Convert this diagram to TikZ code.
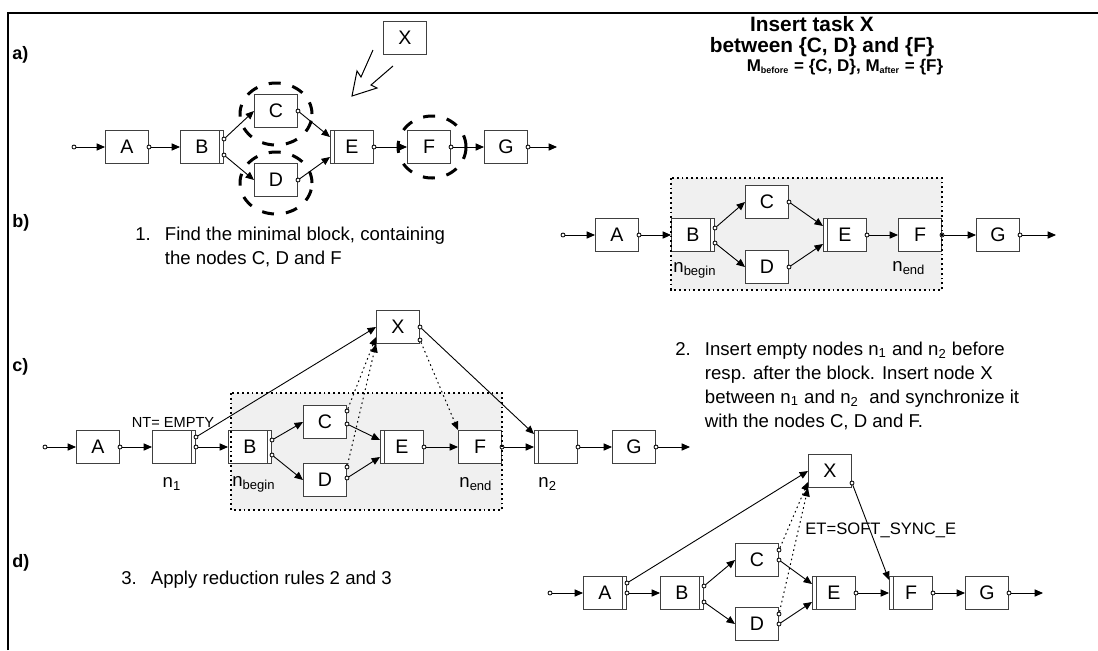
\documentclass[tikz,border=0pt]{standalone}
\usepackage{fontspec}
\setmainfont{Liberation Sans}
\usetikzlibrary{arrows.meta, calc, positioning}
\definecolor{boxInk}{HTML}{404040}
\definecolor{blockFill}{HTML}{F0F0F0}

\begin{document}
\begin{tikzpicture}[
  x=0.5pt, y=-0.5pt,
  >={Triangle[length=4.2pt, width=3.6pt]},
  task/.style={draw=boxInk, fill=white, line width=0.5pt, minimum width=21.5pt,
               minimum height=16.5pt, inner sep=0pt, font=\fontsize{9.8}{11}\selectfont},
  dblR/.style={path picture={\draw[boxInk, line width=0.5pt]
      ([xshift=-2.2pt]path picture bounding box.north east) --
      ([xshift=-2.2pt]path picture bounding box.south east);}},
  dblL/.style={path picture={\draw[boxInk, line width=0.5pt]
      ([xshift=2.2pt]path picture bounding box.north west) --
      ([xshift=2.2pt]path picture bounding box.south west);}},
  port/.style={circle, draw=black, fill=white, line width=0.4pt, minimum size=2pt, inner sep=0pt},
  flow/.style={->, line width=0.45pt},
  sync/.style={->, line width=0.5pt, dash pattern=on 0.8pt off 1.6pt},
  ring/.style={line width=1.5pt, dash pattern=on 6pt off 6pt},
  blockfill/.style={fill=blockFill},
  blockedge/.style={draw=black, line width=0.9pt, dash pattern=on 0.9pt off 1.5pt},
  frame/.style={line width=1.3pt},
  lbl/.style={font=\fontsize{9.3}{12}\selectfont, inner sep=0pt},
  tag/.style={font=\fontsize{7.3}{9}\selectfont, inner sep=0pt},
  ttl/.style={font=\bfseries\fontsize{9}{10}\selectfont, inner sep=0pt},
  head/.style={font=\bfseries\fontsize{10.4}{12}\selectfont, inner sep=0pt},
]
\useasboundingbox (0,0) rectangle (1098,650);
\draw[frame] (8,650) -- (8,13) -- (1098,13);

% ================================ a) =========================================
\node[ttl, anchor=west] (la) at (12,55) {a)};

\node[port] (as) at (74,147) {};
\node[task] (aA) at (127,147) {A};
\node[task, dblR] (aB) at (202,147) {B};
\node[task] (aC) at (276,111) {C};
\node[task] (aD) at (276,180) {D};
\node[task, dblL] (aE) at (352,147) {E};
\node[task] (aF) at (429,147) {F};
\node[task] (aG) at (506,147) {G};
\node[task] (aX) at (405,38) {X};
\coordinate (aend) at (557,147);

\node[port] (aAo) at (aA.east) {};
\node[port] (aBo1) at ([yshift=4pt]aB.east) {};
\node[port] (aBo2) at ([yshift=-4pt]aB.east) {};
\node[port] (aCo) at (aC.east) {};
\node[port] (aDo) at (aD.east) {};
\node[port] (aEo) at (aE.east) {};
\node[port] (aFo) at (aF.east) {};
\node[port] (aGo) at (aG.east) {};

\draw[flow] (as) -- (aA.west);
\draw[flow] (aAo) -- (aB.west);
\draw[flow] (aBo1) -- (aC.west);
\draw[flow] (aBo2) -- (aD.west);
\draw[flow] (aCo) -- ([yshift=5pt]aE.west);
\draw[flow] (aDo) -- ([yshift=-5pt]aE.west);
\draw[flow] (aEo) -- (aF.west);
\draw[flow] (aFo) -- (aG.west);
\draw[flow] (aGo) -- (aend);

% the marked nodes
\draw[ring] (276,114) ellipse [x radius=18pt, y radius=15.5pt];
\draw[ring] (276,183) ellipse [x radius=18pt, y radius=15.5pt];
\draw[ring] (432,147) ellipse [x radius=17pt, y radius=15.5pt];

% where X goes
\draw[line width=0.5pt] (373,50) -- (361,77) -- (357,71) -- (352,96)
  -- (377,88) -- (371,85) -- (393,66);

\node[head] (title1) at (812,24) {Insert task X};
\node[head] (title2) at (822,47) {between \{C, D\} and \{F\}};
\node[font=\bfseries\fontsize{8.5}{10}\selectfont, inner sep=0pt] (mset) at (845,67)
  {M\textsubscript{\fontsize{4.5}{5}\selectfont before} = \{C, D\}, M\textsubscript{\fontsize{4.5}{5}\selectfont after} = \{F\}};

% ================================ b) =========================================
\node[ttl, anchor=west] (lb) at (12,223) {b)};
\node[lbl, anchor=north west] (step1) at (135,223)
  {\begin{tabular}{@{}l@{\hspace{7pt}}l@{}}1. & Find the minimal block, containing\\
                                             & the nodes C, D and F\end{tabular}};

\fill[blockfill] (671,178) rectangle (942,290);

\node[port] (bs) at (563,235) {};
\node[task] (bA) at (617,235) {A};
\node[task, dblR] (bB) at (693,235) {B};
\node[task] (bC) at (767,202) {C};
\node[task] (bD) at (767,267) {D};
\node[task, dblL] (bE) at (845,235) {E};
\node[task] (bF) at (920,235) {F};
\node[task] (bG) at (998,235) {G};
\coordinate (bend) at (1056,235);

\node[port] (bAo) at (bA.east) {};
\node[port] (bBo1) at ([yshift=3.5pt]bB.east) {};
\node[port] (bBo2) at ([yshift=-4pt]bB.east) {};
\node[port] (bCo) at (bC.east) {};
\node[port] (bDo) at (bD.east) {};
\node[port] (bEo) at (bE.east) {};
\node[port] (bFo) at (bF.east) {};
\node[port] (bGo) at (bG.east) {};

\draw[flow] (bs) -- (bA.west);
\draw[flow] (bAo) -- (bB.west);
\draw[flow] (bBo1) -- (bC.west);
\draw[flow] (bBo2) -- (bD.west);
\draw[flow] (bCo) -- ([yshift=4.5pt]bE.west);
\draw[flow] (bDo) -- ([yshift=-4.5pt]bE.west);
\draw[flow] (bEo) -- (bF.west);
\draw[flow] (bFo) -- (bG.west);
\draw[flow] (bGo) -- (bend);

\node[lbl, anchor=west] (bnb) at (673,270) {n\textsubscript{begin}};
\node[lbl, anchor=west] (bne) at (892,268) {n\textsubscript{end}};
\draw[blockedge] (671,178) rectangle (942,290);

% ================================ c) =========================================
\node[ttl, anchor=west] (lc) at (12,367) {c)};
\node[lbl, anchor=north west] (step2) at (675,338)
  {\begin{tabular}{@{}l@{\hspace{7pt}}l@{}}2. & Insert empty nodes n\textsubscript{1} and n\textsubscript{2} before\\
      & resp. after the block. Insert node X\\
      & between n\textsubscript{1} and n\textsubscript{2}\ \ and synchronize it\\
      & with the nodes C, D and F.\end{tabular}};

\fill[blockfill] (231,393) rectangle (502,510);

\node[port] (cs) at (45,447) {};
\node[task] (cA) at (98,447) {A};
\node[task, dblR] (cN1) at (174,447) {};
\node[task, dblR] (cB) at (250,447) {B};
\node[task] (cC) at (325,422) {C};
\node[task] (cD) at (325,480) {D};
\node[task, dblL] (cE) at (402,447) {E};
\node[task] (cF) at (480,447) {F};
\node[task, dblL] (cN2) at (556,447) {};
\node[task] (cG) at (634,447) {G};
\node[task] (cX) at (398,327) {X};
\coordinate (cend) at (690,447);

\node[port] (cAo) at (cA.east) {};
\node[port] (cN1o1) at ([yshift=5pt]cN1.east) {};
\node[port] (cN1o2) at (cN1.east) {};
\node[port] (cBo1) at ([yshift=3.5pt]cB.east) {};
\node[port] (cBo2) at ([yshift=-4pt]cB.east) {};
\node[port] (cCo1) at ([yshift=5.5pt]cC.east) {};
\node[port] (cCo2) at ([yshift=-1pt]cC.east) {};
\node[port] (cDo1) at ([yshift=6.5pt]cD.east) {};
\node[port] (cDo2) at ([yshift=1pt]cD.east) {};
\node[port] (cEo) at (cE.east) {};
\node[port] (cFo) at (cF.east) {};
\node[port] (cN2o) at (cN2.east) {};
\node[port] (cGo) at (cG.east) {};
\node[port] (cXo1) at (cX.east) {};
\node[port] (cXo2) at ([yshift=-6.5pt]cX.east) {};

\draw[flow] (cs) -- (cA.west);
\draw[flow] (cAo) -- (cN1.west);
\draw[flow] (cN1o1) -- (cX.west);
\draw[flow] (cN1o2) -- (cB.west);
\draw[flow] (cBo1) -- (cC.west);
\draw[flow] (cBo2) -- (cD.west);
\draw[flow] (cCo2) -- ([yshift=3.5pt]cE.west);
\draw[flow] (cDo2) -- ([yshift=-5pt]cE.west);
\draw[flow] (cEo) -- (cF.west);
\draw[flow] (cFo) -- (cN2.west);
\draw[flow] (cN2o) -- (cG.west);
\draw[flow] (cGo) -- (cend);
\draw[flow] (cXo1) -- ([yshift=-2pt]cN2.north west);
\draw[sync] (cCo1) -- ([yshift=-5pt]cX.west);
\draw[sync] (cDo1) -- (cX.south west);
\draw[sync] (cXo2) -- (cF.north west);

\node[tag] (cnt) at (173,422) {NT= EMPTY};
\node[lbl] (cn1) at (172,484) {n\textsubscript{1}};
\node[lbl, anchor=west] (cnb) at (232,484) {n\textsubscript{begin}};
\node[lbl, anchor=west] (cne) at (459,484) {n\textsubscript{end}};
\node[lbl, anchor=west] (cn2) at (538,484) {n\textsubscript{2}};
\draw[blockedge] (231,393) rectangle (502,510);

% ================================ d) =========================================
\node[ttl, anchor=west] (ld) at (12,563) {d)};
\node[lbl, anchor=north west] (step3) at (121,567)
  {\begin{tabular}{@{}l@{\hspace{7pt}}l@{}}3. & Apply reduction rules 2 and 3\end{tabular}};

\node[port] (ds) at (550,593) {};
\node[task, dblR] (dA) at (605,593) {A};
\node[task, dblR] (dB) at (682,593) {B};
\node[task] (dC) at (757,560) {C};
\node[task] (dD) at (757,624) {D};
\node[task, dblL] (dE) at (834,593) {E};
\node[task, dblL] (dF) at (911,593) {F};
\node[task] (dG) at (987,593) {G};
\node[task] (dX) at (830,471) {X};
\coordinate (dend) at (1043,593);

\node[port] (dAo1) at ([yshift=5pt]dA.east) {};
\node[port] (dAo2) at (dA.east) {};
\node[port] (dBo1) at ([yshift=3.5pt]dB.east) {};
\node[port] (dBo2) at ([yshift=-4.5pt]dB.east) {};
\node[port] (dCo1) at ([yshift=5pt]dC.east) {};
\node[port] (dCo2) at (dC.east) {};
\node[port] (dDo1) at ([yshift=5pt]dD.east) {};
\node[port] (dDo2) at (dD.east) {};
\node[port] (dEo) at (dE.east) {};
\node[port] (dFo) at (dF.east) {};
\node[port] (dGo) at (dG.east) {};
\node[port] (dXo) at ([yshift=-6pt]dX.east) {};

\draw[flow] (ds) -- (dA.west);
\draw[flow] (dAo1) -- (dX.west);
\draw[flow] (dAo2) -- (dB.west);
\draw[flow] (dBo1) -- (dC.west);
\draw[flow] (dBo2) -- (dD.west);
\draw[flow] (dCo2) -- ([yshift=4.5pt]dE.west);
\draw[flow] (dDo2) -- ([yshift=-4.5pt]dE.west);
\draw[flow] (dEo) -- (dF.west);
\draw[flow] (dFo) -- (dG.west);
\draw[flow] (dGo) -- (dend);
\draw[flow] (dXo) -- ([yshift=-2pt]dF.north west);
\draw[sync] (dCo1) -- ([yshift=-5.5pt]dX.west);
\draw[sync] (dDo1) -- (dX.south west);

\node[font=\fontsize{8.3}{10}\selectfont, inner sep=0pt, anchor=west] (det) at (805,530) {ET=SOFT\_SYNC\_E};
\end{tikzpicture}
\end{document}
